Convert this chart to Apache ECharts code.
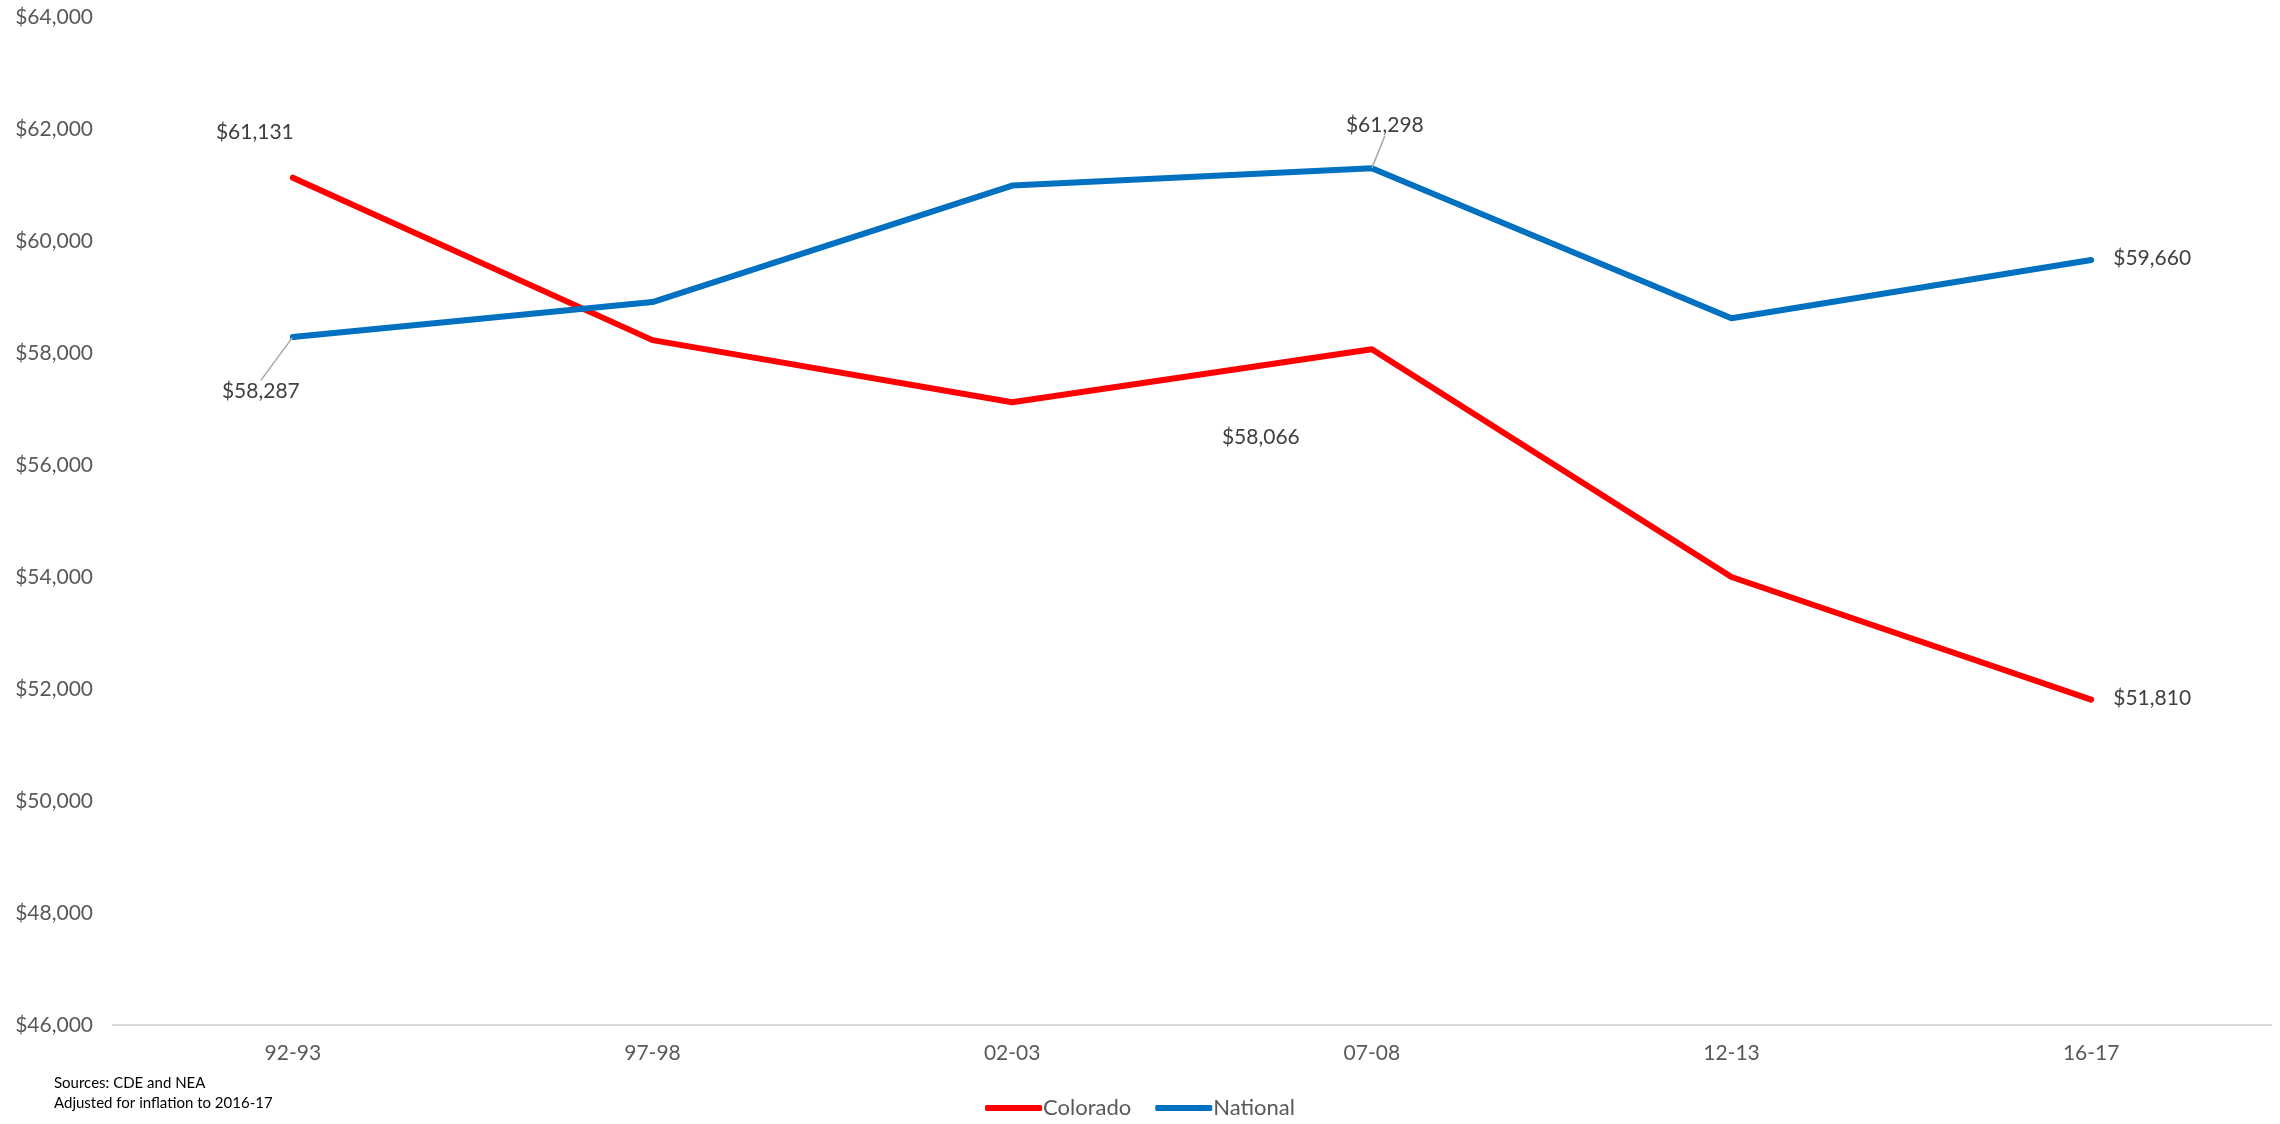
<!DOCTYPE html>
<html>
<head>
<meta charset="utf-8">
<title>Teacher salary, Colorado vs National</title>
<script src="https://cdn.jsdelivr.net/npm/echarts@6/dist/echarts.min.js"></script>
<style>
  html, body { margin: 0; padding: 0; background: #fff; }
  #chart { width: 2280px; height: 1124px; }
</style>
</head>
<body>
<div id="chart"></div>
<script>
// Data (inflation adjusted to 2016-17)
const years = ['92-93', '97-98', '02-03', '07-08', '12-13', '16-17']
const colorado = [61131, 58230, 57120, 58066, 54000, 51810]
const national = [58287, 58910, 60990, 61298, 58620, 59660]

// Which points carry a value label
const coloradoLabeled = [0, 3, 5]
const nationalLabeled = [0, 3, 5]
const nationalLeader = [0, 3]

const fontFamily = 'Lato, "Open Sans", sans-serif'
const money = v => '$' + v.toLocaleString('en-US')

// label centre offsets from the point, [dx, dy] in px
const labelOffsets = [
  { 0: [-38, -45], 3: [-111, 88], 5: [61, -1] },
  { 0: [-32, 54], 3: [13, -43], 5: [61, -2] }
]

const buildData = (values, labeled, leader) => values.map((v, i) => {
  if (!labeled.includes(i)) return v
  return {
    value: v,
    label: { show: true },
    labelLine: { show: leader.includes(i) }
  }
})

const chart = echarts.init(document.getElementById('chart'))

const options = {
  animation: false,
  grid: { left: 113, right: 9, top: 17, bottom: 99 },
  legend: {
    data: ['Colorado', 'National'],
    bottom: 0,
    left: 'center',
    icon: 'roundRect',
    itemWidth: 57,
    itemHeight: 6,
    itemGap: 24,
    textStyle: { fontFamily, fontSize: 22, color: '#595959', padding: [0, 0, 0, -4] }
  },
  xAxis: {
    type: 'category',
    data: years,
    axisLine: { lineStyle: { color: '#D9D9D9', width: 2 } },
    axisTick: { show: false },
    axisLabel: { fontFamily, fontSize: 21, color: '#595959', margin: 18 }
  },
  yAxis: {
    type: 'value',
    min: 46000,
    max: 64000,
    interval: 2000,
    splitLine: { show: false },
    axisLine: { show: false },
    axisTick: { show: false },
    axisLabel: {
      fontFamily, fontSize: 21, color: '#595959', margin: 20,
      formatter: v => money(v)
    }
  },
  labelLayout: function (p) {
    const off = labelOffsets[p.seriesIndex] && labelOffsets[p.seriesIndex][p.dataIndex]
    if (!off || !p.rect) return {}
    return {
      x: p.rect.x + p.rect.width / 2 + off[0],
      y: p.rect.y + p.rect.height / 2 + off[1],
      align: 'center',
      verticalAlign: 'middle'
    }
  },
  series: [
    {
      name: 'Colorado',
      type: 'line',
      data: buildData(colorado, coloradoLabeled, []),
      symbol: 'circle',
      symbolSize: 1,
      showSymbol: true,
      itemStyle: { color: '#FF0000' },
      lineStyle: { color: '#FF0000', width: 6, cap: 'round', join: 'round' },
      label: {
        show: false,
        fontFamily, fontSize: 21, color: '#404040',
        formatter: p => money(p.value)
      },
      labelLine: { show: false }
    },
    {
      name: 'National',
      type: 'line',
      data: buildData(national, nationalLabeled, nationalLeader),
      symbol: 'circle',
      symbolSize: 1,
      showSymbol: true,
      itemStyle: { color: '#0070C0' },
      lineStyle: { color: '#0070C0', width: 6, cap: 'round', join: 'round' },
      label: {
        show: false,
        fontFamily, fontSize: 21, color: '#404040',
        formatter: p => money(p.value)
      },
      labelLine: { show: false, length2: 0, lineStyle: { color: '#A6A6A6', width: 1.5 } }
    }
  ],
  graphic: [
    {
      type: 'text',
      left: 54,
      top: 1073,
      style: {
        text: 'Sources: CDE and NEA\nAdjusted for inflation to 2016-17',
        fontFamily, fontSize: 15, lineHeight: 20, fill: '#000'
      }
    }
  ]
}

chart.setOption(options)
</script>
</body>
</html>
